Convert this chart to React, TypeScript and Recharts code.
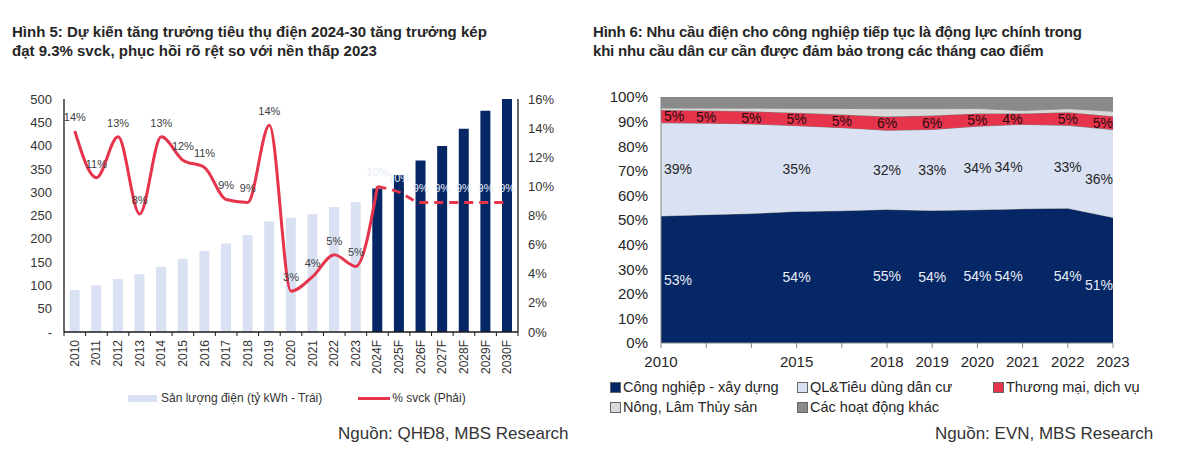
import React from 'react';
import { ComposedChart, Bar, Cell, Line, Area, XAxis, YAxis, LabelList } from 'recharts';

const FONT = 'Arial, "Liberation Sans", Helvetica, sans-serif';
const NAVY = '#062765';
const LIGHT_BLUE = '#d9e1f2';
const RED = '#e6344c';

// ---- Hình 5 ----
const years5 = [
  '2010', '2011', '2012', '2013', '2014', '2015', '2016', '2017', '2018', '2019', '2020',
  '2021', '2022', '2023', '2024F', '2025F', '2026F', '2027F', '2028F', '2029F', '2030F',
];
// sản lượng điện, tỷ kWh
const output5 = [90, 100, 114, 124, 140, 157, 174, 190, 208, 237, 245, 253, 268, 279, 308, 337, 368, 399, 436, 475, 516];
// % svck, 2010 -> 2024F (solid)
const growthActual = [13.8, 10.6, 13.4, 8.1, 13.4, 11.8, 11.3, 9.1, 8.9, 14.2, 2.8, 3.8, 5.3, 4.5, 10.0];
// % svck, 2024F -> 2030F (dashed)
const growthForecast = [10.0, 9.6, 8.9, 8.9, 8.9, 8.9, 8.9];
const FIRST_FORECAST = 14;
const leftTicks = [0, 50, 100, 150, 200, 250, 300, 350, 400, 450, 500];
const rightTicks = [0, 2, 4, 6, 8, 10, 12, 14, 16];

const data5 = years5.map((year, i) => ({
  year,
  output: output5[i],
  growth: i < growthActual.length ? growthActual[i] : undefined,
  growthLabel: i < FIRST_FORECAST ? growthActual[i] : undefined,
  forecast: i >= FIRST_FORECAST ? growthForecast[i - FIRST_FORECAST] : undefined,
}));

// ---- Hình 6 ----
const labels6 = ['2010', '', '', '2015', '', '2018', '2019', '2020', '2021', '2022', '2023'];
const industry = [52.6, 53.0, 53.4, 54.2, 54.4, 54.6, 54.2, 54.3, 54.4, 54.2, 50.8];
const residential = [38.6, 37.8, 37.0, 35.3, 34.2, 32.4, 33.2, 34.1, 34.2, 33.4, 35.6];
const commerce = [5.3, 5.2, 5.2, 5.3, 5.4, 5.6, 5.7, 5.2, 4.4, 5.3, 5.4];
const agriculture = [0.8, 1.0, 1.3, 1.8, 2.5, 3.2, 2.8, 2.0, 1.2, 1.4, 2.0];
const others = [4.6, 4.6, 4.6, 4.7, 4.7, 4.8, 4.8, 4.7, 5.5, 4.7, 5.8];

const data6 = labels6.map((label, i) => {
  const total = industry[i] + residential[i] + commerce[i] + agriculture[i] + others[i];
  const shown = label !== '';
  return {
    label,
    industry: industry[i],
    residential: residential[i],
    commerce: commerce[i],
    agriculture: agriculture[i],
    others: others[i],
    indMid: industry[i] / 2 / total,
    resMid: (industry[i] + residential[i] / 2) / total,
    comMid: (industry[i] + residential[i] + commerce[i] / 2) / total,
    indLabel: shown ? industry[i] : undefined,
    resLabel: shown ? residential[i] : undefined,
  };
});

function YearTick(props: any) {
  const { x, y, payload, index } = props;
  const half = payload && payload.offset ? payload.offset : 10.8;
  const axisY = y - 8;
  return (
    <g>
      <line x1={x - half} x2={x - half} y1={axisY} y2={axisY + 4} stroke="#1a1a1a" />
      {index === years5.length - 1 && (
        <line x1={x + half} x2={x + half} y1={axisY} y2={axisY + 4} stroke="#1a1a1a" />
      )}
      <text
        transform={`translate(${x},${y}) rotate(-90)`}
        textAnchor="end"
        dominantBaseline="central"
        fontSize={12}
        fill="#333"
        fontFamily={FONT}
      >
        {payload.value}
      </text>
    </g>
  );
}

const bandLabel = (color: string, shiftLast: boolean) => (props: any) => {
  const { value, index } = props;
  if (value === undefined || value === null) return null;
  const vb = props.viewBox || {};
  const x = props.x ?? vb.x;
  const y = props.y ?? vb.y;
  const last = labels6.length - 1;
  let anchor: 'start' | 'middle' | 'end' = 'middle';
  if (index === 0) anchor = 'start';
  if (index === last || index === 8) anchor = 'end';
  const dx = index === 0 ? 3 : 0;
  const dy = shiftLast && index === last ? 5 : 0;
  return (
    <text
      x={x + dx}
      y={y + dy}
      textAnchor={anchor}
      dominantBaseline="central"
      fill={color}
      fontSize={14}
      fontFamily={FONT}
    >
      {`${Math.round(value)}%`}
    </text>
  );
};

const pct = (v: any) => `${Math.round(Number(v))}%`;

const abs = (left: number, top: number, extra: React.CSSProperties = {}): React.CSSProperties => ({
  position: 'absolute',
  left,
  top,
  whiteSpace: 'nowrap',
  fontFamily: FONT,
  ...extra,
});

function Swatch({ color }: { color: string }) {
  return (
    <span
      style={{
        display: 'inline-block',
        width: 9,
        height: 9,
        background: color,
        border: '1px solid #666',
        marginRight: 2,
        verticalAlign: 'middle',
        position: 'relative',
        top: -1,
      }}
    />
  );
}

export default function App() {
  const titleStyle: React.CSSProperties = { fontSize: 15, fontWeight: 'bold', color: '#262626', lineHeight: '19px' };
  const legend6: React.CSSProperties = { fontSize: 14.5, color: '#262626' };
  return (
    <div style={{ position: 'absolute', left: 0, top: 0, width: 1200, height: 455, background: '#fff', overflow: 'hidden' }}>
      <div style={abs(12, 22, titleStyle)}>
        Hình 5: Dự kiến tăng trưởng tiêu thụ điện 2024-30 tăng trưởng kép
        <br />
        đạt 9.3% svck, phục hồi rõ rệt so với nền thấp 2023
      </div>
      <div style={abs(593, 22, { ...titleStyle, letterSpacing: -0.2 })}>
        Hình 6: Nhu cầu điện cho công nghiệp tiếp tục là động lực chính trong
        <br />
        khi nhu cầu dân cư cần được đảm bảo trong các tháng cao điểm
      </div>

      {/* Hình 5 chart */}
      <div style={{ position: 'absolute', left: 0, top: 0 }}>
        <ComposedChart
          width={600}
          height={455}
          data={data5}
          barCategoryGap="26%"
          margin={{ top: 99, left: 14, right: 32, bottom: 83 }}
        >
          <XAxis
            dataKey="year"
            interval={0}
            height={40}
            tickSize={4}
            tickMargin={4}
            tickLine={false}
            axisLine={{ stroke: '#1a1a1a', strokeWidth: 1.3 }}
            tick={(p: any) => <YearTick {...p} />}
          />
          <XAxis
            xAxisId="top"
            dataKey="year"
            orientation="top"
            height={0}
            tick={false}
            tickLine={false}
            axisLine={{ stroke: '#1a1a1a', strokeWidth: 1.3 }}
          />
          <YAxis
            yAxisId="left"
            width={50}
            domain={[0, 500]}
            ticks={leftTicks}
            allowDataOverflow
            tickLine={false}
            tickMargin={6}
            axisLine={{ stroke: '#1a1a1a', strokeWidth: 1.3 }}
            tick={{ fontSize: 13, fill: '#333', fontFamily: FONT }}
            tickFormatter={(v: number) => (v === 0 ? '-' : `${v}`)}
          />
          <YAxis
            yAxisId="right"
            orientation="right"
            width={50}
            domain={[0, 16]}
            ticks={rightTicks}
            tickLine={false}
            tickMargin={4}
            axisLine={{ stroke: '#1a1a1a', strokeWidth: 1.3 }}
            tick={{ fontSize: 13, fill: '#333', fontFamily: FONT }}
            tickFormatter={(v: number) => `${v}%`}
          />
          <Bar yAxisId="left" dataKey="output" isAnimationActive={false}>
            {data5.map((d, i) => (
              <Cell key={d.year} fill={i >= FIRST_FORECAST ? NAVY : LIGHT_BLUE} />
            ))}
          </Bar>
          <Line
            yAxisId="right"
            dataKey="growth"
            type="monotone"
            stroke={RED}
            strokeWidth={3}
            dot={false}
            activeDot={false}
            isAnimationActive={false}
          >
            <LabelList
              dataKey="growthLabel"
              position="top"
              offset={10}
              formatter={pct}
              style={{ fontSize: 11, fill: '#404040', fontFamily: FONT }}
            />
          </Line>
          <Line
            yAxisId="right"
            dataKey="forecast"
            type="monotone"
            stroke={RED}
            strokeWidth={3}
            strokeDasharray="9 6"
            dot={false}
            activeDot={false}
            isAnimationActive={false}
          >
            <LabelList
              dataKey="forecast"
              position="top"
              offset={10}
              formatter={pct}
              style={{ fontSize: 11, fill: '#e8edf7', fontFamily: FONT }}
            />
          </Line>
        </ComposedChart>
      </div>

      {/* Hình 5 legend & source */}
      <div style={abs(128, 391, { fontSize: 12, color: '#333', display: 'flex', alignItems: 'center' })}>
        <span style={{ display: 'inline-block', width: 29, height: 7, background: LIGHT_BLUE, marginRight: 4 }} />
        Sản lượng điện (tỷ kWh - Trái)
        <span style={{ display: 'inline-block', width: 32, height: 3, background: RED, marginLeft: 36, marginRight: 2 }} />
        % svck (Phải)
      </div>
      <div style={abs(338, 424, { fontSize: 17, color: '#333' })}>Nguồn: QHĐ8, MBS Research</div>

      {/* Hình 6 chart */}
      <div style={{ position: 'absolute', left: 590, top: 0 }}>
        <ComposedChart
          width={610}
          height={455}
          data={data6}
          stackOffset="expand"
          margin={{ top: 97, left: 21, right: 87, bottom: 82 }}
        >
          <XAxis
            dataKey="label"
            interval={0}
            height={30}
            tickSize={5}
            tickMargin={8}
            tickLine={{ stroke: '#868686' }}
            axisLine={{ stroke: '#868686' }}
            tick={{ fontSize: 15, fill: '#262626', fontFamily: FONT }}
          />
          <XAxis
            xAxisId="top"
            dataKey="label"
            orientation="top"
            height={0}
            tick={false}
            tickLine={false}
            axisLine={{ stroke: '#868686' }}
          />
          <YAxis
            width={50}
            domain={[0, 1]}
            ticks={[0, 0.1, 0.2, 0.3, 0.4, 0.5, 0.6, 0.7, 0.8, 0.9, 1]}
            allowDataOverflow
            tickLine={false}
            tickMargin={7}
            axisLine={{ stroke: '#868686' }}
            tick={{ fontSize: 15, fill: '#262626', fontFamily: FONT }}
            tickFormatter={(v: number) => `${Math.round(v * 100)}%`}
          />
          <YAxis
            yAxisId="frame"
            orientation="right"
            width={0}
            domain={[0, 1]}
            tick={false}
            tickLine={false}
            axisLine={{ stroke: '#868686' }}
          />
          <Area dataKey="industry" stackId="a" type="linear" fill={NAVY} fillOpacity={1} stroke="#7f7f7f" strokeWidth={1} isAnimationActive={false} />
          <Area dataKey="residential" stackId="a" type="linear" fill={LIGHT_BLUE} fillOpacity={1} stroke="#7f7f7f" strokeWidth={1} isAnimationActive={false} />
          <Area dataKey="commerce" stackId="a" type="linear" fill={RED} fillOpacity={1} stroke="#7f7f7f" strokeWidth={1} isAnimationActive={false} />
          <Area dataKey="agriculture" stackId="a" type="linear" fill="#d9d9d9" fillOpacity={1} stroke="#9a9a9a" strokeWidth={1} isAnimationActive={false} />
          <Area dataKey="others" stackId="a" type="linear" fill="#8a8a8a" fillOpacity={1} stroke="#7f7f7f" strokeWidth={1} isAnimationActive={false} />
          <Line dataKey="indMid" stroke="none" dot={false} activeDot={false} isAnimationActive={false}>
            <LabelList dataKey="indLabel" content={bandLabel('#e8edf7', true)} />
          </Line>
          <Line dataKey="resMid" stroke="none" dot={false} activeDot={false} isAnimationActive={false}>
            <LabelList dataKey="resLabel" content={bandLabel('#262626', true)} />
          </Line>
          <Line dataKey="comMid" stroke="none" dot={false} activeDot={false} isAnimationActive={false}>
            <LabelList dataKey="commerce" content={bandLabel('#2a0a10', false)} />
          </Line>
        </ComposedChart>
      </div>

      {/* Hình 6 legend & source */}
      <div style={abs(610, 379, legend6)}>
        <Swatch color={NAVY} />Công nghiệp - xây dựng
      </div>
      <div style={abs(797, 379, legend6)}>
        <Swatch color={LIGHT_BLUE} />QL&amp;Tiêu dùng dân cư
      </div>
      <div style={abs(993, 379, legend6)}>
        <Swatch color={RED} />Thương mại, dịch vụ
      </div>
      <div style={abs(610, 399, legend6)}>
        <Swatch color="#d9d9d9" />Nông, Lâm Thủy sản
      </div>
      <div style={abs(797, 399, legend6)}>
        <Swatch color="#8a8a8a" />Các hoạt động khác
      </div>
      <div style={abs(935, 424, { fontSize: 17, color: '#333' })}>Nguồn: EVN, MBS Research</div>
    </div>
  );
}
